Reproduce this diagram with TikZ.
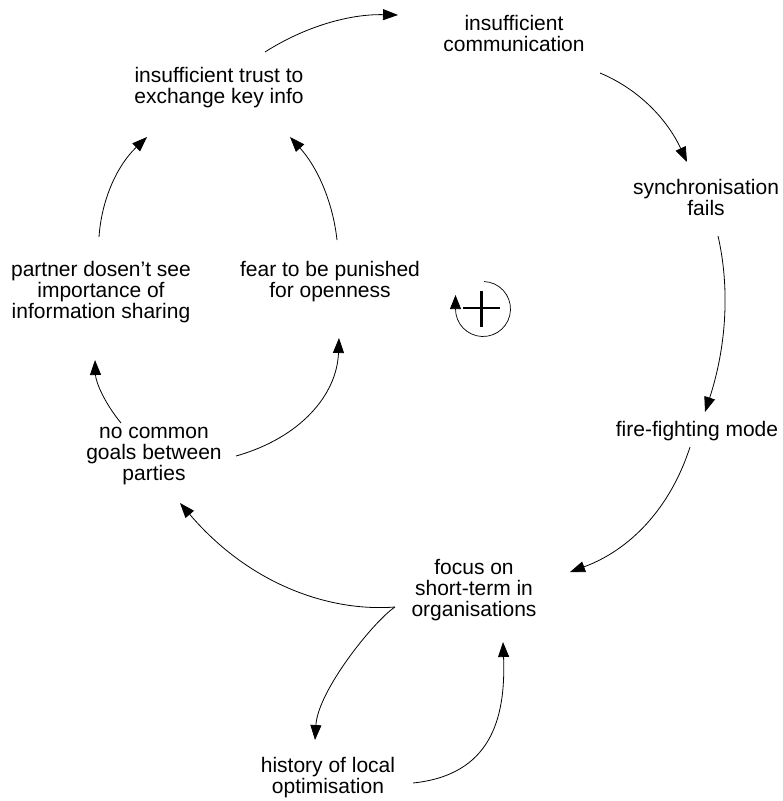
\documentclass[tikz,border=0pt]{standalone}
\usepackage{fontspec}
\setmainfont{Liberation Sans}
\usetikzlibrary{arrows.meta}
\begin{document}
\begin{tikzpicture}[x=1pt,y=-1pt,
  var/.style={align=center,inner sep=0pt,font=\fontsize{21}{21}\selectfont},
  link/.style={line width=0.8pt,-{Triangle[length=15pt,width=11pt]}},
  loopline/.style={line width=0.7pt,-{Triangle[length=14pt,width=11pt]}},
  plusbar/.style={line width=2.2pt}]
\useasboundingbox (0,0) rectangle (783,801);

% variables
\node[var] (comm)    at (514,33)  {insufficient\\communication};
\node[var] (trust)   at (219,88)  {insufficient trust to\\exchange key info};
\node[var] (sync)    at (706,197) {synchronisation\\fails};
\node[var] (partner) at (101,292) {partner dosen’t see\\importance of\\information sharing};
\node[var] (fear)    at (330,282) {fear to be punished\\for openness};
\node[var] (fire)    at (697,431) {fire-fighting mode};
\node[var] (goals)   at (154,456) {no common\\goals between\\parties};
\node[var] (focus)   at (474,590) {focus on\\short-term in\\organisations};
\node[var] (history) at (328,778) {history of local\\optimisation};

% link end points
\coordinate (trust-o)   at (265,52);
\coordinate (comm-i)    at (398,15);
\coordinate (comm-o)    at (600,73);
\coordinate (sync-i)    at (687,162);
\coordinate (sync-o)    at (718,236);
\coordinate (fire-i)    at (705,412);
\coordinate (fire-o)    at (690,447);
\coordinate (focus-i)   at (570,572);
\coordinate (focus-o)   at (395,607);
\coordinate (goals-i)   at (180,503);
\coordinate (history-i) at (315,740);
\coordinate (history-o) at (413,783);
\coordinate (focus-i2)  at (503,642);
\coordinate (goals-o1)  at (121,423);
\coordinate (partner-i) at (95,360);
\coordinate (goals-o2)  at (236,456);
\coordinate (fear-i)    at (339,338);
\coordinate (partner-o) at (99,237);
\coordinate (trust-i1)  at (147,137);
\coordinate (fear-o)    at (337,240);
\coordinate (trust-i2)  at (290,137);

% causal links
\draw[link] (trust-o) .. controls (305.6,26.2) and (349.9,13.9) .. (comm-i);
\draw[link] (comm-o) .. controls (637.7,88.7) and (666.7,118.3) .. (sync-i);
\draw[link] (sync-o) .. controls (730.3,289.3) and (726,348) .. (fire-i);
\draw[link] (fire-o) .. controls (670.3,508.1) and (630.3,549.8) .. (focus-i);
\draw[link] (focus-o) .. controls (330,612) and (250,585) .. (goals-i);
\draw[link] (focus-o) .. controls (375,620) and (318,690) .. (history-i);
\draw[link] (history-o) .. controls (490,775) and (506,720) .. (focus-i2);
\draw[link] (goals-o1) .. controls (104.3,402.7) and (95.7,381.7) .. (partner-i);
\draw[link] (goals-o2) .. controls (300,438) and (337,395) .. (fear-i);
\draw[link] (partner-o) .. controls (101.7,198.3) and (117.7,165) .. (trust-i1);
\draw[link] (fear-o) .. controls (332.7,201) and (317,166.7) .. (trust-i2);

% reinforcing loop marker
\draw[loopline] (483,309) ++(-88:27.5) arc[start angle=-88,end angle=180,radius=27.5] -- ++(0,-14);
\draw[plusbar] (463,308) -- (500,308);
\draw[plusbar] (481.5,291) -- (481.5,327);
\end{tikzpicture}
\end{document}
